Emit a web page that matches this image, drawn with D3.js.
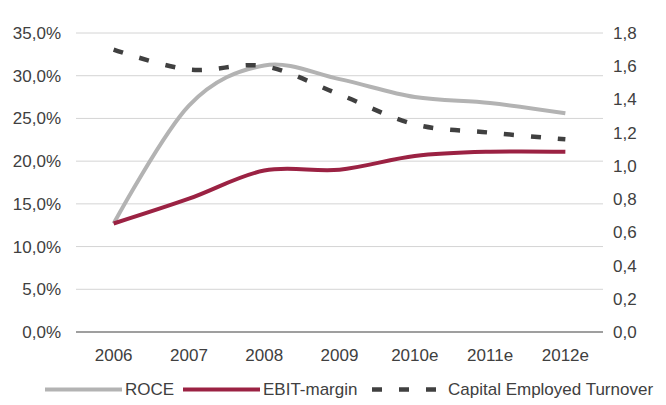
<!DOCTYPE html>
<html lang="en">
<head>
<meta charset="UTF-8">
<title>ROCE / EBIT-margin / Capital Employed Turnover</title>
<script src="https://cdn.jsdelivr.net/npm/d3@7/dist/d3.min.js"></script>
<style>
  html, body { margin: 0; padding: 0; background: #fff; }
  svg text { font-family: "Liberation Sans", Arial, Helvetica, sans-serif; font-size: 17px; fill: #404040; }
</style>
</head>
<body>
<svg width="666" height="405"></svg>
<script>
// data
var years = ['2006', '2007', '2008', '2009', '2010e', '2011e', '2012e'];
var roce = [12.7, 26.5, 31.2, 29.6, 27.5, 26.8, 25.6];          // %
var ebitMargin = [12.7, 15.6, 18.9, 19.0, 20.6, 21.1, 21.1];    // %
var ceTurnover = [1.70, 1.58, 1.60, 1.43, 1.25, 1.20, 1.16];    // x
var leftTicks = [0, 5, 10, 15, 20, 25, 30, 35];
var rightTicks = [0, 0.2, 0.4, 0.6, 0.8, 1.0, 1.2, 1.4, 1.6, 1.8];
var seriesNames = ['ROCE', 'EBIT-margin', 'Capital Employed Turnover'];

var marge = {top: 33, right: 63, bottom: 73, left: 76};
var svg = d3.select('svg');
var sWidth = +svg.attr('width');
var sHeight = +svg.attr('height');
var w = sWidth - marge.left - marge.right;
var h = sHeight - marge.top - marge.bottom;
var g = svg.append('g').attr('transform', 'translate(' + marge.left + ',' + marge.top + ')');

var de = d3.formatLocale({decimal: ',', thousands: '.', grouping: [3], currency: ['', '€']});
var fmt1 = de.format('.1f');

var x = d3.scaleBand().domain(years).range([0, w]);
var yL = d3.scaleLinear().domain([0, 35]).range([h, 0]);
var yR = d3.scaleLinear().domain([0, 1.8]).range([h, 0]);

// gridlines
g.append('g').selectAll('line')
    .data(leftTicks.slice(1))
    .enter().append('line')
    .attr('x1', 0).attr('x2', w)
    .attr('y1', function(d) { return yL(d); })
    .attr('y2', function(d) { return yL(d); })
    .attr('stroke', '#d4d4d4').attr('stroke-width', 1);

// left axis
var axL = g.append('g')
    .call(d3.axisLeft(yL).tickValues(leftTicks).tickSize(0).tickPadding(15)
        .tickFormat(function(d) { return fmt1(d) + '%'; }));
axL.select('.domain').remove();
axL.selectAll('text').attr('font-size', null).attr('font-family', null).attr('fill', null);

// right axis
var axR = g.append('g').attr('transform', 'translate(' + w + ',0)')
    .call(d3.axisRight(yR).tickValues(rightTicks).tickSize(0).tickPadding(10)
        .tickFormat(function(d) { return fmt1(d); }));
axR.select('.domain').remove();
axR.selectAll('text').attr('font-size', null).attr('font-family', null).attr('fill', null);

// bottom axis
var axB = g.append('g').attr('transform', 'translate(0,' + h + ')')
    .call(d3.axisBottom(x).tickSize(0).tickPadding(17));
axB.select('.domain').remove();
axB.selectAll('text').attr('font-size', null).attr('font-family', null).attr('fill', null);
g.append('line')
    .attr('x1', 0).attr('x2', w).attr('y1', h).attr('y2', h)
    .attr('stroke', '#7f7f7f').attr('stroke-width', 1.5);

// lines
var cx = function(d, i) { return x(years[i]) + x.bandwidth() / 2; };
var lineL = d3.line().x(cx).y(function(d) { return yL(d); }).curve(d3.curveCatmullRom.alpha(0));
var lineR = d3.line().x(cx).y(function(d) { return yR(d); }).curve(d3.curveCatmullRom.alpha(0));

var styles = [
    {color: '#b3b3b3', dash: null},
    {color: '#9b2243', dash: null},
    {color: '#404040', dash: '10,17'}
];

g.append('path').datum(roce).attr('d', lineL)
    .attr('fill', 'none').attr('stroke', styles[0].color).attr('stroke-width', 4);
g.append('path').datum(ebitMargin).attr('d', lineL)
    .attr('fill', 'none').attr('stroke', styles[1].color).attr('stroke-width', 4);
g.append('path').datum(ceTurnover).attr('d', lineR)
    .attr('fill', 'none').attr('stroke', styles[2].color).attr('stroke-width', 4.5)
    .attr('stroke-dasharray', styles[2].dash);

// legend
var legendX = [45, 183, 363];
var legend = svg.append('g').attr('transform', 'translate(0,389.5)');
var items = legend.selectAll('g').data(seriesNames).enter().append('g')
    .attr('transform', function(d, i) { return 'translate(' + legendX[i] + ',0)'; });
items.append('line')
    .attr('x1', 0).attr('x2', 77).attr('y1', 0).attr('y2', 0)
    .attr('stroke', function(d, i) { return styles[i].color; })
    .attr('stroke-width', function(d, i) { return i === 2 ? 4.5 : 4; })
    .attr('stroke-dasharray', function(d, i) { return styles[i].dash; })
    .attr('stroke-dashoffset', function(d, i) { return i === 2 ? 18 : null; });
items.append('text')
    .attr('x', function(d, i) { return i === 2 ? 85 : 80; })
    .attr('dy', '0.35em')
    .text(function(d) { return d; });
</script>
</body>
</html>
